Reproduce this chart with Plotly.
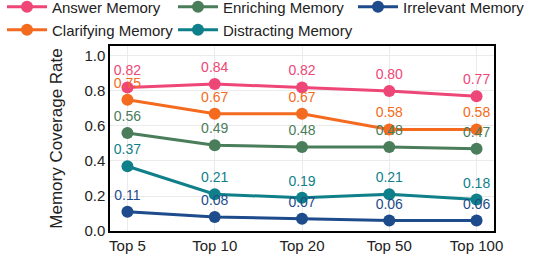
import plotly.graph_objects as go

categories = ["Top 5", "Top 10", "Top 20", "Top 50", "Top 100"]
answer = [0.82, 0.84, 0.82, 0.80, 0.77]
clarifying = [0.75, 0.67, 0.67, 0.58, 0.58]
enriching = [0.56, 0.49, 0.48, 0.48, 0.47]
distracting = [0.37, 0.21, 0.19, 0.21, 0.18]
irrelevant = [0.11, 0.08, 0.07, 0.06, 0.06]

W, H = 558, 257
FONT = "Liberation Sans, Arial, sans-serif"

# (name, values, colour, legend id, legend left px, legend row centre px)
series = [
    ("Answer Memory", answer, "#EE4677", "legend", 2, 7),
    ("Clarifying Memory", clarifying, "#F46B20", "legend2", 2, 30),
    ("Enriching Memory", enriching, "#4A7D5A", "legend3", 173, 7),
    ("Distracting Memory", distracting, "#0F808A", "legend4", 173, 30),
    ("Irrelevant Memory", irrelevant, "#1E4B8B", "legend5", 353, 7),
]

fig = go.Figure()
legends = {}
for name, vals, col, lg, lx, ly in series:
    fig.add_trace(go.Scatter(
        x=categories, y=vals, name=name, mode="lines+markers+text",
        line=dict(color=col, width=3),
        marker=dict(color=col, size=12),
        text=[f"{v:.2f}" for v in vals], textposition="top center",
        textfont=dict(color=col, size=14, family=FONT),
        cliponaxis=False, legend=lg,
    ))
    legends[lg] = dict(orientation="h", xanchor="left", yanchor="middle",
                       xref="container", yref="container",
                       x=lx / W, y=1 - ly / H,
                       font=dict(size=15, color="#222222"),
                       itemwidth=40, bgcolor="rgba(0,0,0,0)")

fig.update_layout(
    width=W, height=H,
    margin=dict(l=110, r=64, t=46, b=26, autoexpand=False),
    paper_bgcolor="white", plot_bgcolor="white",
    font=dict(family=FONT, color="#222222"),
    showlegend=True,
    **legends,
)
fig.update_xaxes(
    range=[-0.2, 4.2], showline=True, linecolor="black", linewidth=1.5, mirror=True,
    showgrid=True, gridcolor="#ebebeb", gridwidth=1, ticks="",
    tickfont=dict(size=15, color="#222222"),
)
fig.update_yaxes(
    range=[0, 1.057], tickvals=[0, 0.2, 0.4, 0.6, 0.8, 1.0],
    ticktext=["0.0", "0.2", "0.4", "0.6", "0.8", "1.0"],
    showline=True, linecolor="black", linewidth=1.5, mirror=True,
    showgrid=True, gridcolor="#ebebeb", gridwidth=1, zeroline=False, ticks="",
    tickfont=dict(size=15, color="#222222"),
    title=dict(text="Memory Coverage Rate", font=dict(size=17, color="#222222"), standoff=17),
)
fig.write_html("out.html", config={"displayModeBar": False},
               post_script="document.body.style.margin='0px';")
